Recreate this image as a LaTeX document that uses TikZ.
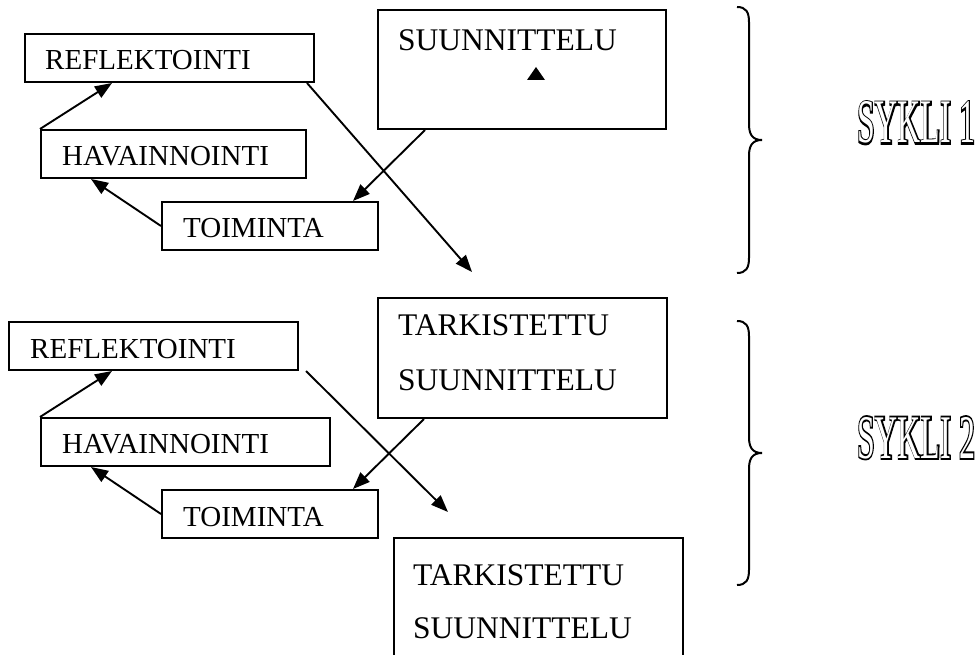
\documentclass[tikz,border=0pt]{standalone}
\usepackage{fontspec}
\setmainfont{Liberation Serif}
\newfontfamily\sykfill{Liberation Serif}
\newfontfamily\sykbold[FakeBold=6]{Liberation Serif}
\usetikzlibrary{arrows.meta,calc}
\tikzset{
  boxnode/.style={draw, line width=2pt, inner sep=0pt, anchor=north west},
  lefttext/.style={anchor=base west, inner sep=0pt, font=\fontsize{29}{34}\selectfont},
  righttext/.style={anchor=base west, inner sep=0pt, font=\fontsize{31.5}{36}\selectfont},
  conn/.style={-{Triangle[length=17pt,width=13pt]}, line width=1.9pt},
  bracepath/.style={line width=2pt},
  syktext/.style={anchor=base west, inner sep=0pt, xscale=0.515, font=\fontsize{62}{70}\selectfont}
}
\begin{document}
\begin{tikzpicture}[x=1pt,y=-1pt]
\useasboundingbox (0,0) rectangle (980,655);
\clip (0,0) rectangle (980,655);
% ---------- cycle 1 ----------
\node[boxnode, minimum width=289pt, minimum height=48pt] (ref1) at (24,33) {};
\node[boxnode, minimum width=265pt, minimum height=48pt] (hav1) at (40,129) {};
\node[boxnode, minimum width=216pt, minimum height=48pt] (tom1) at (161,201) {};
\node[boxnode, minimum width=288pt, minimum height=119pt] (suu1) at (377,9) {};
\node[lefttext] (ref1t) at (45,70) {REFLEKTOINTI};
\node[lefttext] (hav1t) at (62,166) {HAVAINNOINTI};
\node[lefttext] (tom1t) at (183,238) {TOIMINTA};
\node[righttext] (suu1t) at (398,51) {SUUNNITTELU};
\fill (527,80) -- (545,80) -- (536,67) -- cycle;
\coordinate (e1) at (472,272);
\draw[conn] (hav1.north west) -- ($(ref1.south west)+(88,0)$);
\draw[conn] (tom1.west) -- ($(hav1.south west)+(51,0)$);
\draw[conn] ($(suu1.south west)+(48,0)$) -- ($(tom1.north west)+(192,0)$);
\draw[conn] ($(ref1.south east)+(-8,0)$) -- (e1);
% ---------- cycle 2 ----------
\node[boxnode, minimum width=289pt, minimum height=48pt] (ref2) at (8,321) {};
\node[boxnode, minimum width=289pt, minimum height=48pt] (hav2) at (40,417) {};
\node[boxnode, minimum width=216pt, minimum height=48pt] (tom2) at (161,489) {};
\node[boxnode, minimum width=289pt, minimum height=120pt] (tark2) at (377,297) {};
\node[boxnode, minimum width=289pt, minimum height=140pt] (tark3) at (393,537) {};
\node[lefttext] (ref2t) at (30,358) {REFLEKTOINTI};
\node[lefttext] (hav2t) at (62,453) {HAVAINNOINTI};
\node[lefttext] (tom2t) at (183,526) {TOIMINTA};
\node[righttext] (tark2a) at (398,335) {TARKISTETTU};
\node[righttext] (tark2b) at (398,390) {SUUNNITTELU};
\node[righttext] (tark3a) at (413,585) {TARKISTETTU};
\node[righttext] (tark3b) at (413,638) {SUUNNITTELU};
\coordinate (s2) at ($(ref2.south east)+(7,0)$);
\coordinate (e2) at (448,512);
\draw[conn] (hav2.north west) -- ($(ref2.south west)+(104,0)$);
\draw[conn] (tom2.west) -- ($(hav2.south west)+(51,0)$);
\draw[conn] ($(tark2.south west)+(47,0)$) -- ($(tom2.north west)+(192,0)$);
\draw[conn] (s2) -- (e2);
% ---------- braces ----------
\draw[bracepath] (737,7) .. controls (746,7) and (749,12) .. (749,22) -- (749,124)
  .. controls (749,134) and (752,140) .. (762,140)
  .. controls (752,140) and (749,146) .. (749,156) -- (749,258)
  .. controls (749,268) and (746,273) .. (737,273);
\draw[bracepath] (737,321) .. controls (746,321) and (749,326) .. (749,336) -- (749,437)
  .. controls (749,447) and (752,453) .. (762,453)
  .. controls (752,453) and (749,459) .. (749,469) -- (749,570)
  .. controls (749,580) and (746,585) .. (737,585);
% ---------- cycle labels ----------
\node[syktext] (syk1b) at (857,143) {\sykbold SYKLI 1};
\node[syktext, text=white] (syk1w) at (857,143) {\sykfill SYKLI 1};
\node[syktext] (syk2b) at (857,458) {\sykbold SYKLI 2};
\node[syktext, text=white] (syk2w) at (857,458) {\sykfill SYKLI 2};
\end{tikzpicture}
\end{document}
